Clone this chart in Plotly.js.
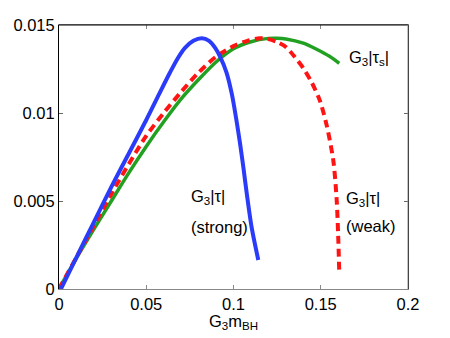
<!DOCTYPE html>
<html>
<head>
<meta charset="utf-8">
<script src="https://cdn.plot.ly/plotly-3.0.1.min.js"></script>
<style>
  html, body { margin: 0; padding: 0; background: #fff; }
  #chart { width: 450px; height: 338px; }
</style>
</head>
<body>
<div id="chart"></div>
<script>
////////// values
// G3|tau| (strong)
var strongX = [0.0011, 0.010, 0.020, 0.030, 0.040, 0.050, 0.0575, 0.0636, 0.068, 0.0722, 0.077, 0.0818,
               0.086, 0.0895, 0.0923, 0.096, 0.099, 0.1015, 0.1037, 0.1058, 0.1075, 0.1104, 0.1142];
var strongY = [0, 0.0018, 0.0038, 0.0058, 0.0077, 0.0096, 0.0111, 0.0123, 0.0131, 0.0137, 0.0141, 0.01425,
               0.0141, 0.0137, 0.0132, 0.0123, 0.0111, 0.0097, 0.0083, 0.0068, 0.0055, 0.0035, 0.00165];

// G3|tau| (weak)
var weakX = [0, 0.010, 0.020, 0.030, 0.040, 0.050, 0.060, 0.070, 0.080, 0.090, 0.100, 0.108, 0.115,
             0.120, 0.125, 0.130, 0.135, 0.140, 0.145, 0.1495, 0.1534, 0.1572, 0.1591, 0.1600, 0.1606];
var weakY = [0, 0.0018, 0.0036, 0.0054, 0.0071, 0.0087, 0.0100, 0.0112, 0.0123, 0.0132, 0.0138, 0.0141, 0.01425,
             0.0142, 0.01403, 0.01375, 0.0132, 0.01255, 0.0117, 0.0107, 0.0093, 0.0073, 0.0051, 0.0030, 0.0009];

// G3|tau_s|
var tausX = [0, 0.010, 0.020, 0.030, 0.040, 0.050, 0.060, 0.070, 0.080, 0.090, 0.100, 0.110, 0.120,
             0.125, 0.130, 0.140, 0.1476, 0.155, 0.1606];
var tausY = [0, 0.00175, 0.0034, 0.0050, 0.0066, 0.0081, 0.0095, 0.0108, 0.0119, 0.0129, 0.01365, 0.01405, 0.01424,
             0.01425, 0.01421, 0.01397, 0.01362, 0.01322, 0.01282];

var xTicks = [0, 0.05, 0.1, 0.15, 0.2];
var xTickText = ['0', '0.05', '0.1', '0.15', '0.2'];
var yTicks = [0, 0.005, 0.01, 0.015];
var yTickText = ['0', '0.005', '0.01', '0.015'];

var FONT = 'Liberation Sans, Arial, sans-serif';

////////// traces
var data = [
  { x: tausX, y: tausY, type: 'scatter', mode: 'lines',
    line: { color: '#22a022', width: 3.5, shape: 'spline', smoothing: 0.8 }, showlegend: false },
  { x: weakX, y: weakY, type: 'scatter', mode: 'lines',
    line: { color: '#ff1414', width: 4, dash: '8px,5px', shape: 'spline', smoothing: 0.8 }, showlegend: false },
  { x: strongX, y: strongY, type: 'scatter', mode: 'lines',
    line: { color: '#2a3cfa', width: 4, shape: 'spline', smoothing: 0.8 }, showlegend: false }
];

////////// layout
var layout = {
  width: 450, height: 338,
  margin: { l: 59, r: 42, t: 25, b: 49, pad: 0 },
  paper_bgcolor: '#fff', plot_bgcolor: '#fff',
  font: { family: FONT, size: 16.5, color: '#000' },
  xaxis: {
    range: [0, 0.2], tickvals: xTicks, ticktext: xTickText,
    showgrid: false, zeroline: false,
    showline: true, linecolor: '#888', linewidth: 1, mirror: 'ticks',
    ticks: 'inside', ticklen: 4, tickcolor: '#888'
  },
  yaxis: {
    range: [0, 0.015], tickvals: yTicks, ticktext: yTickText,
    showgrid: false, zeroline: false,
    showline: true, linecolor: '#000', linewidth: 1, mirror: 'ticks',
    ticks: 'inside', ticklen: 4, tickcolor: '#666'
  },
  shapes: [
    // top border black, right border gray as in the original
    { type: 'line', xref: 'paper', yref: 'paper', x0: 0, x1: 1, y0: 1, y1: 1,
      line: { color: '#000', width: 1 }, layer: 'above' },
    { type: 'line', xref: 'paper', yref: 'paper', x0: 1, x1: 1, y0: 0, y1: 1,
      line: { color: '#888', width: 1 }, layer: 'above' }
  ],
  annotations: [
    // x axis title, placed by hand so it sits where the original has it
    { xref: 'paper', yref: 'paper', x: 0.5, y: -0.124, text: 'G<sub>3</sub>m<sub>BH</sub>',
      showarrow: false, xanchor: 'center', yanchor: 'middle', borderpad: 0 },
    { x: 0.1649, y: 0.0131, text: 'G<sub>3</sub>|τ<sub>s</sub>|', showarrow: false,
      xanchor: 'left', yanchor: 'middle' },
    { x: 0.0745, y: 0.0052, text: 'G<sub>3</sub>|τ|', showarrow: false,
      xanchor: 'left', yanchor: 'middle' },
    { x: 0.0745, y: 0.0035, text: '(strong)', showarrow: false,
      xanchor: 'left', yanchor: 'middle' },
    { x: 0.1635, y: 0.0051, text: 'G<sub>3</sub>|τ|', showarrow: false,
      xanchor: 'left', yanchor: 'middle' },
    { x: 0.1635, y: 0.0036, text: '(weak)', showarrow: false,
      xanchor: 'left', yanchor: 'middle' }
  ]
};

Plotly.newPlot('chart', data, layout, { staticPlot: true, displayModeBar: false });
</script>
</body>
</html>
